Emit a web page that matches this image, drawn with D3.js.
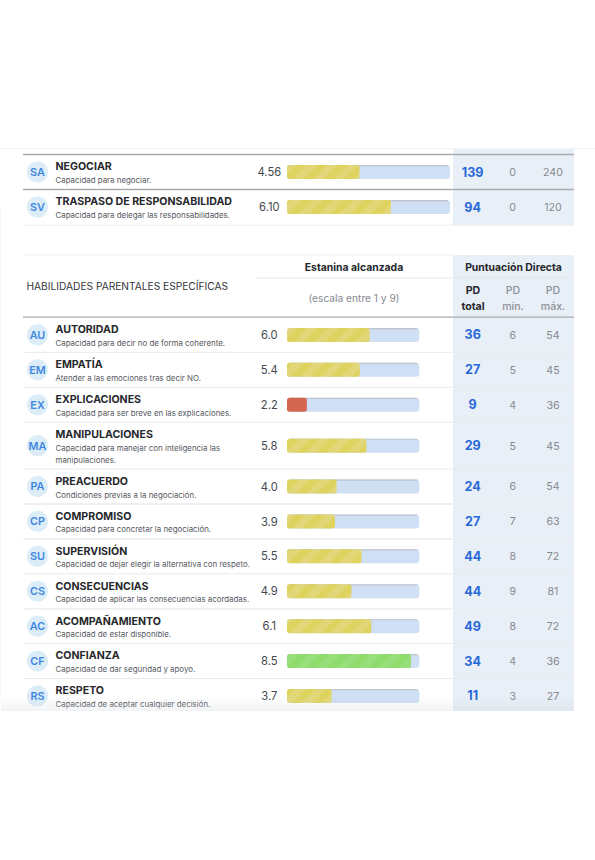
<!DOCTYPE html>
<html><head><meta charset="utf-8">
<script src="https://d3js.org/d3.v7.min.js"></script>
<style>html,body{margin:0;padding:0;background:#fff}svg{display:block}text{font-family:Inter,"Noto Sans",sans-serif;-webkit-font-smoothing:antialiased}</style>
</head><body><div id="c"></div>
<script>
// --- data ---
const topCodes = ["SA","SV"];
const topNames = ["NEGOCIAR","TRASPASO DE RESPONSABILIDAD"];
const topDescs = [["Capacidad para negociar."],["Capacidad para delegar las responsabilidades."]];
const topValues = [4.56,6.10];
const topTotals = [139,94];
const topMins = [0,0];
const topMaxs = [240,120];

const codes = ["AU","EM","EX","MA","PA","CP","SU","CS","AC","CF","RS"];
const names = ["AUTORIDAD","EMPATÍA","EXPLICACIONES","MANIPULACIONES","PREACUERDO","COMPROMISO","SUPERVISIÓN","CONSECUENCIAS","ACOMPAÑAMIENTO","CONFIANZA","RESPETO"];
const descs = [
 ["Capacidad para decir no de forma coherente."],
 ["Atender a las emociones tras decir NO."],
 ["Capacidad para ser breve en las explicaciones."],
 ["Capacidad para manejar con inteligencia las","manipulaciones."],
 ["Condiciones previas a la negociación."],
 ["Capacidad para concretar la negociación."],
 ["Capacidad de dejar elegir la alternativa con respeto."],
 ["Capacidad de aplicar las consecuencias acordadas."],
 ["Capacidad de estar disponible."],
 ["Capacidad de dar seguridad y apoyo."],
 ["Capacidad de aceptar cualquier decisión."]];
const values = [6.0,5.4,2.2,5.8,4.0,3.9,5.5,4.9,6.1,8.5,3.7];
const totals = [36,27,9,29,24,27,44,44,49,34,11];
const mins = [6,5,4,5,6,7,8,9,8,4,3];
const maxs = [54,45,36,45,54,63,72,81,72,36,27];
const scaleDomain = [1,9];
const bandThresholds = [3,7];

// --- drawing ---
const svg = d3.select("#c").append("svg").attr("width",595).attr("height",860);
const defs = svg.append("defs");
const tone = d3.scaleThreshold().domain(bandThresholds).range(["red","yellow","green"]);
const base = {red:"#d2664f",yellow:"#ded35e",green:"#8edc6b"};
const light = {red:"#d2664f",yellow:"#e2d778",green:"#98df7c"};
Object.keys(base).forEach(k=>{
  const p = defs.append("pattern").attr("id","p-"+k).attr("patternUnits","userSpaceOnUse")
    .attr("width",14.5).attr("height",14.5).attr("patternTransform","rotate(45)");
  p.append("rect").attr("width",14.5).attr("height",14.5).attr("fill",base[k]);
  p.append("rect").attr("width",7.25).attr("height",14.5).attr("fill",light[k]);
});
const fade = defs.append("linearGradient").attr("id","fade").attr("x1",0).attr("x2",0).attr("y1",0).attr("y2",1);
fade.append("stop").attr("offset",0).attr("stop-color","#c8d0d4").attr("stop-opacity",0);
fade.append("stop").attr("offset",1).attr("stop-color","#c8d0d4").attr("stop-opacity",.25);

const L=23, R=574, BL=453;
const colTotal=472.7, colMin=512.7, colMax=553, colVal=269.3;

// background furniture
svg.append("rect").attr("x",0).attr("y",205).attr("width",1).attr("height",491).attr("fill","#f3f8fc");
svg.append("line").attr("x1",0).attr("x2",595).attr("y1",148.5).attr("y2",148.5).attr("stroke","#f3f3f3");
svg.append("rect").attr("x",BL).attr("y",149).attr("width",R-BL).attr("height",76).attr("fill","#e9eff7");
svg.append("rect").attr("x",BL).attr("y",255).attr("width",R-BL).attr("height",456).attr("fill","#e9eff7");

function hline(y,x1,x2,color,w){svg.append("line").attr("x1",x1).attr("x2",x2).attr("y1",y).attr("y2",y).attr("stroke",color).attr("stroke-width",w);}
function txt(x,y,s,size,weight,fill,anchor){return svg.append("text").attr("x",x).attr("y",y).attr("font-size",size).attr("font-weight",weight).attr("fill",fill).attr("text-anchor",anchor||"middle").text(s);}

function drawRows(rows,startY,x,rowH,rowFmt){
  let y=startY;
  rows.forEach(r=>{
    const h = r.desc.length>1 ? rowH+12 : rowH;
    const cy = y+h/2;
    svg.append("circle").attr("cx",37.5).attr("cy",cy).attr("r",10.6).attr("fill","#dcedf7");
    txt(37.5,cy+3.9,r.code,10.8,600,"#3d87e2");
    txt(55.5,y+15.8,r.name,10.6,700,"#26282c","start");
    r.desc.forEach((d,i)=>txt(55.5,y+28.4+i*12.3,d,7.9,400,"#55585e","start"));
    txt(colVal,cy+4.1,rowFmt(r.value),11.2,400,"#44474c");
    const x0=x.range()[0], x1=x.range()[1];
    const gr=svg.append("g");
    gr.append("rect").attr("x",x0).attr("y",cy-7).attr("width",x1-x0).attr("height",14).attr("rx",3.5).attr("fill","#cfdff4");
    gr.append("path").attr("d",`M${x0+2},${cy-6.4}H${x1-2}`).attr("stroke","#bfc4cd").attr("stroke-width",1.2);
    const k=tone(r.value);
    gr.append("rect").attr("x",x0).attr("y",cy-7).attr("width",x(r.value)-x0).attr("height",14).attr("rx",2.5).attr("fill",`url(#p-${k})`);
    txt(colTotal,cy+4.5,r.total,12.6,700,"#2768d8");
    txt(colMin,cy+3.9,r.min,10.6,400,"#85898f");
    txt(colMax,cy+3.9,r.max,10.6,400,"#85898f");
    y+=h;
    r.bottom=y;
  });
  return y;
}
const zipTop = topCodes.map((c,i)=>({code:c,name:topNames[i],desc:topDescs[i],value:topValues[i],total:topTotals[i],min:topMins[i],max:topMaxs[i]}));
const zip = codes.map((c,i)=>({code:c,name:names[i],desc:descs[i],value:values[i],total:totals[i],min:mins[i],max:maxs[i]}));

const xTop = d3.scaleLinear().domain(scaleDomain).range([287,450]);
const xMain = d3.scaleLinear().domain(scaleDomain).range([287,419.3]);

drawRows(zipTop,154.5,xTop,35,d3.format(".2f"));
hline(154.5,L,R,"#a9abae",1.3);
hline(189.5,L,R,"#a9abae",1.3);
hline(225.2,L,R,"#ebedef",1);

// second table header
hline(255,L,BL,"#f2f2f2",1.2);
hline(278,255,R,"#e6e8ea",1.2);
txt(26.5,289.5,"HABILIDADES PARENTALES ESPECÍFICAS",10.2,400,"#33363a","start");
txt(354,270.5,"Estanina alcanzada",10.4,700,"#26282c");
txt(513.5,270.5,"Puntuación Directa",10.4,700,"#26282c");
txt(354,301.5,"(escala entre 1 y 9)",10.2,400,"#85898f");
txt(473,294,"PD",10.6,700,"#26282c");
txt(473,310,"total",10.6,700,"#26282c");
txt(513,294,"PD",10.6,500,"#8d9197");
txt(513,310,"min.",10.6,500,"#8d9197");
txt(553,294,"PD",10.6,500,"#8d9197");
txt(553,310,"máx.",10.6,500,"#8d9197");

drawRows(zip,317.5,xMain,34.9,d3.format(".1f"));
hline(317.2,L,R,"#a9abae",1.3);
const ruleWidths=[1,1,1,1,2,2,1,1.5,1,1];
zip.slice(0,-1).forEach((r,i)=>hline(r.bottom,L,R,ruleWidths[i]>1?"#eef0f2":"#e9ebed",ruleWidths[i]));

// soft fade at the bottom edge, then white below the cropped sheet
svg.append("rect").attr("x",1).attr("y",696).attr("width",573).attr("height",15).attr("fill","url(#fade)");
svg.append("rect").attr("x",0).attr("y",711).attr("width",595).attr("height",149).attr("fill","#fff");
</script></body></html>
